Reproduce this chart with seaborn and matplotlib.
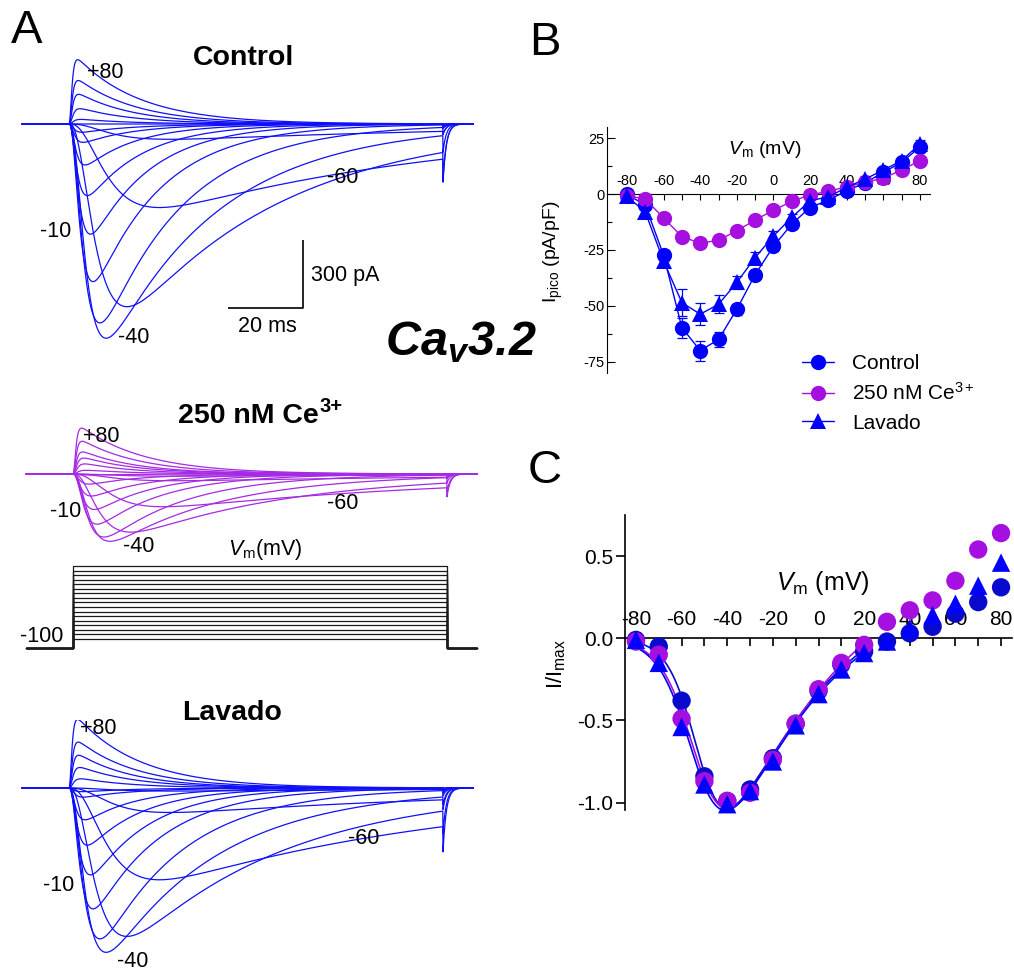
import numpy as np
import pandas as pd
import matplotlib
matplotlib.use("Agg")
import matplotlib.pyplot as plt
import seaborn as sns
from matplotlib.lines import Line2D
from matplotlib.ticker import FixedLocator, FormatStrFormatter

sns.set_theme(style="ticks")
plt.rcParams["font.family"] = ["Liberation Sans", "DejaVu Sans"]
plt.rcParams["text.color"] = "black"
plt.rcParams["axes.labelcolor"] = "black"
plt.rcParams["xtick.color"] = "black"
plt.rcParams["ytick.color"] = "black"
plt.rcParams["axes.edgecolor"] = "black"
plt.rcParams["axes.unicode_minus"] = False
plt.rcParams["mathtext.fontset"] = "custom"
plt.rcParams["mathtext.rm"] = "Liberation Sans"
plt.rcParams["mathtext.it"] = "Liberation Sans:italic"
plt.rcParams["mathtext.bf"] = "Liberation Sans:bold"
plt.rcParams["mathtext.bfit"] = "Liberation Sans:italic:bold"

# ---------------------------------------------------------------- data
# test potentials of the step protocol (mV)
vm = [-80, -70, -60, -50, -40, -30, -20, -10, 0, 10, 20, 30, 40, 50, 60, 70, 80]

# peak current density (pA/pF)
ipk_control = [0.0, -5.0, -27.3, -59.7, -70.0, -65.0, -51.5, -36.0, -23.4, -13.4,
               -6.0, -2.7, 1.5, 5.0, 9.7, 14.2, 21.0]
ipk_cerium = [-0.7, -2.2, -10.7, -19.0, -22.0, -20.6, -16.4, -11.6, -7.2, -3.3,
              -0.3, 1.2, 3.3, 5.2, 7.2, 10.7, 15.0]
ipk_washout = [-1.0, -8.0, -30.0, -48.5, -53.7, -49.3, -39.5, -28.4, -18.7, -10.4,
               -3.0, -1.2, 3.0, 6.7, 10.7, 15.0, 22.4]

# standard error of the mean (pA/pF)
sem_control = [0.5, 1.0, 2.5, 4.5, 4.5, 3.4, 2.5, 2.0, 1.5, 1.0, 0.8, 0.6, 0.8, 1.0, 1.2, 1.5, 2.0]
sem_cerium = [0.3, 0.5, 1.0, 1.5, 1.5, 1.5, 1.2, 1.0, 0.8, 0.6, 0.5, 0.5, 0.6, 0.8, 1.0, 1.0, 1.2]
sem_washout = [0.5, 1.0, 2.5, 6.0, 4.8, 4.0, 3.0, 2.5, 2.0, 1.5, 1.0, 0.8, 1.0, 1.2, 1.5, 1.8, 2.0]

# current normalised to the maximal inward current
inorm_control = [-0.01, -0.05, -0.38, -0.84, -0.99, -0.92, -0.73, -0.52, -0.32, -0.16,
                 -0.08, -0.02, 0.03, 0.07, 0.15, 0.22, 0.31]
inorm_cerium = [-0.02, -0.10, -0.49, -0.87, -0.99, -0.94, -0.74, -0.52, -0.31, -0.15,
                -0.04, 0.10, 0.17, 0.23, 0.35, 0.54, 0.64]
inorm_washout = [-0.01, -0.15, -0.54, -0.89, -1.01, -0.93, -0.75, -0.53, -0.34, -0.19,
                 -0.09, -0.02, 0.06, 0.14, 0.21, 0.32, 0.46]

# gating kinetics of each sweep (ms)
tau_act = [8.0, 7.5, 6.7, 4.6, 2.85, 2.5, 1.9, 1.7, 1.4, 1.2, 1.0, 0.9, 0.8, 0.7, 0.6, 0.55, 0.5]
tau_inact = [90, 90, 80, 43, 30, 22, 18, 16, 15, 14, 14, 14, 14, 15, 15, 16, 17]

conditions = ["Control", "250 nM Ce$^{3+}$", "Lavado"]

# recording constants
CM = 13.5          # membrane capacitance (pF)
V_HOLD = -100      # holding potential (mV)
E_REV = 36.0       # apparent reversal potential (mV)
S_GHK = 12.8       # RT/zF for Ca2+ (mV)
TAU_TAIL = 0.9     # tail current deactivation (ms)
T_PRE, T_STEP, T_POST = 12.5, 100.0, 8.0

# colours
BLUE = "#0000FF"
DARK_BLUE = "#0A0ACD"
PURPLE = "#A50FE0"
TRACE_BLUE = "#1010F8"
TRACE_PURPLE = "#A52AE3"

# ---------------------------------------------------------------- figure
W, H = 1014, 973
fig = plt.figure(figsize=(W / 100, H / 100), dpi=100)


def axes_px(left, top, right, bottom):
    return fig.add_axes([left / W, 1 - bottom / H, (right - left) / W, (bottom - top) / H])


def text_px(x, y, s, **kw):
    kw.setdefault("va", "baseline")
    return fig.text(x / W, 1 - y / H, s, **kw)


def ghk_drive(v, e_rev):
    v = np.where(v == 0, 1e-9, np.asarray(v, float))
    return v * (1 - np.exp((e_rev - v) / S_GHK)) / (-np.expm1(-v / S_GHK))


PX_MS = 3.74            # horizontal scale of the sweeps (px per ms)
PX_PA = 68.0 / 300.0    # vertical scale of the sweeps (px per pA)
T_LIM = (-14.0, 110.0)

t = np.arange(-T_PRE, T_STEP + T_POST + 1e-9, 0.05)


def sweep(density, v, tm, th):
    amp = density * CM
    ts = np.clip(t, 0, T_STEP)
    gate = (1 - np.exp(-ts / tm)) ** 3 * np.exp(-ts / th)
    peak = gate.max()
    i = np.where((t >= 0) & (t <= T_STEP), amp * gate / peak, 0.0)
    open_end = gate[np.searchsorted(t, T_STEP) - 1] / peak
    tail0 = amp * open_end * ghk_drive(V_HOLD, E_REV) / ghk_drive(v, E_REV)
    tail = tail0 * np.exp(-(t - T_STEP) / TAU_TAIL)
    return np.where(t > T_STEP, tail, i)


def sweeps_frame(densities):
    parts = []
    for v, d, tm, th in zip(vm, densities, tau_act, tau_inact):
        parts.append(pd.DataFrame({"t": t, "I": sweep(d, v, tm, th), "Vm": v}))
    return pd.concat(parts, ignore_index=True)


def trace_axes(x_step, y_base, ylim):
    left = x_step + T_LIM[0] * PX_MS
    right = x_step + T_LIM[1] * PX_MS
    top = y_base - ylim[1] * PX_PA
    bottom = y_base - ylim[0] * PX_PA
    ax = axes_px(left, top, right, bottom)
    ax.set_xlim(*T_LIM)
    ax.set_ylim(*ylim)
    ax.axis("off")
    return ax


# --- Panel A: current sweeps
ax_ctl = trace_axes(69, 124, (-1000, 300))
sns.lineplot(data=sweeps_frame(ipk_control), x="t", y="I", units="Vm", estimator=None,
             sort=False, color=TRACE_BLUE, lw=0.9, ax=ax_ctl, legend=False)
# scale bar: 20 ms, 300 pA
sb_t, sb_i = 62.6, -811.6
ax_ctl.plot([sb_t - 20, sb_t, sb_t], [sb_i, sb_i, sb_i + 300], color="black", lw=1.2,
            solid_capstyle="butt")

ax_ce = trace_axes(73, 474, (-1000, 300))
sns.lineplot(data=sweeps_frame(ipk_cerium), x="t", y="I", units="Vm", estimator=None,
             sort=False, color=TRACE_PURPLE, lw=0.9, ax=ax_ce, legend=False)

ax_wash = trace_axes(69, 788, (-900, 300))
sns.lineplot(data=sweeps_frame(ipk_washout), x="t", y="I", units="Vm", estimator=None,
             sort=False, color=TRACE_BLUE, lw=0.9, ax=ax_wash, legend=False)

# voltage protocol
PX_MV = 73.0 / 160.0
ax_prot = axes_px(73 + T_LIM[0] * PX_MS, 566 - 10 * PX_MV, 73 + T_LIM[1] * PX_MS,
                  648.1 + 10 * PX_MV)
ax_prot.set_xlim(*T_LIM)
ax_prot.set_ylim(-110, 90)
ax_prot.axis("off")
prot = []
for v in vm:
    prot.append(pd.DataFrame({
        "t": [-T_PRE, 0, 0, T_STEP, T_STEP, T_STEP + T_POST],
        "V": [V_HOLD, V_HOLD, v, v, V_HOLD, V_HOLD],
        "Vm": v}))
sns.lineplot(data=pd.concat(prot, ignore_index=True), x="t", y="V", units="Vm",
             estimator=None, sort=False, color="#1a1a1a", lw=0.9, ax=ax_prot, legend=False)

# labels of panel A
LBL = 15.5
text_px(244, 65, "Control", fontsize=20.5, fontweight="bold", ha="center")
text_px(87, 78, "+80", fontsize=LBL)
text_px(40, 237, "-10", fontsize=LBL)
text_px(118, 343, "-40", fontsize=LBL)
text_px(327, 183, "-60", fontsize=LBL)
text_px(311, 281, "300 pA", fontsize=LBL)
text_px(267, 332, "20 ms", fontsize=LBL, ha="center")

ce_title = text_px(178, 423, "250 nM Ce", fontsize=20.5, fontweight="bold", ha="left")
renderer = fig.canvas.get_renderer()
ce_right = ce_title.get_window_extent(renderer).x1
fig.text(ce_right / W + 1 / W, 1 - 412 / H, "3+", fontsize=14.5, fontweight="bold",
         ha="left", va="baseline")
text_px(83, 442, "+80", fontsize=LBL)
text_px(50, 517, "-10", fontsize=LBL)
text_px(123, 552, "-40", fontsize=LBL)
text_px(327, 509, "-60", fontsize=LBL)
text_px(228, 555, r"$V_\mathrm{m}$(mV)", fontsize=LBL)
text_px(20, 642, "-100", fontsize=LBL)

text_px(232, 720, "Lavado", fontsize=20.5, fontweight="bold", ha="center")
text_px(80, 734, "+80", fontsize=LBL)
text_px(43, 891, "-10", fontsize=LBL)
text_px(117, 967, "-40", fontsize=LBL)
text_px(348, 844, "-60", fontsize=LBL)

text_px(385, 355, r"$\mathbfit{Ca}_{\mathbfit{v}}\mathbfit{3.2}$", fontsize=35)

PANEL_FONT = ["Liberation Sans Narrow", "Liberation Sans"]
text_px(11, 43, "A", fontsize=34, family=PANEL_FONT)
text_px(529, 55, "B", fontsize=34, family=PANEL_FONT)
text_px(528, 483, "C", fontsize=34, family=PANEL_FONT)

# --- Panel B: peak I-V relationship
palette_b = {conditions[0]: BLUE, conditions[1]: PURPLE, conditions[2]: BLUE}
markers = {conditions[0]: "o", conditions[1]: "o", conditions[2]: "^"}

df_b = pd.DataFrame({
    "Vm": vm * 3,
    "I": ipk_control + ipk_cerium + ipk_washout,
    "cond": [conditions[0]] * len(vm) + [conditions[1]] * len(vm) + [conditions[2]] * len(vm),
})
sems = {conditions[0]: sem_control, conditions[1]: sem_cerium, conditions[2]: sem_washout}

ax_b = axes_px(607, 127, 930, 373)
for c in conditions:
    sub = df_b[df_b["cond"] == c]
    ax_b.errorbar(sub["Vm"], sub["I"], yerr=sems[c], fmt="none", ecolor=palette_b[c],
                  elinewidth=0.9, capsize=3.5, capthick=0.9, zorder=2)
sns.lineplot(data=df_b, x="Vm", y="I", hue="cond", style="cond", hue_order=conditions,
             style_order=conditions, palette=palette_b, markers=markers, dashes=False,
             markersize=11, markeredgewidth=0, lw=1.0, ax=ax_b, legend=False, zorder=3)

ax_b.set_xlim(-90.9, 85.5)
ax_b.set_ylim(-80, 30)
ax_b.spines["right"].set_visible(False)
ax_b.spines["bottom"].set_position(("data", 0))
ax_b.spines["top"].set_position(("data", 0))
ax_b.spines["top"].set_visible(False)
for s in ("left", "bottom"):
    ax_b.spines[s].set_linewidth(0.8)
    ax_b.spines[s].set_color("black")
ax_b.xaxis.set_major_locator(FixedLocator(vm[::2]))
ax_b.xaxis.set_minor_locator(FixedLocator(vm[1::2]))
ax_b.tick_params(axis="x", which="both", bottom=True, top=False, labelbottom=False,
                 labeltop=True, direction="out", length=4, width=0.8, color="black",
                 labelsize=10.5, pad=0.5)
ax_b.yaxis.set_major_locator(FixedLocator([-75, -50, -25, 0, 25]))
ax_b.yaxis.set_minor_locator(FixedLocator([-62.5, -37.5, -12.5, 12.5]))
ax_b.tick_params(axis="y", which="major", direction="in", length=6, width=0.8,
                 color="black", labelsize=10.5, pad=2, left=True)
ax_b.tick_params(axis="y", which="minor", direction="in", length=3.5, width=0.8,
                 color="black", left=True)
ax_b.set_xlabel("")
ax_b.set_ylabel("")
text_px(553, 252, r"I$_\mathrm{pico}$ (pA/pF)", fontsize=14, rotation=90,
        ha="center", va="center")
text_px(765, 150, r"$V_\mathrm{m}$ (mV)", fontsize=14, ha="center", va="center")

handles = [Line2D([], [], color=palette_b[c], marker=markers[c], markersize=11,
                  markeredgewidth=0, lw=1.0) for c in conditions]
fig.legend(handles, conditions, loc="upper left", bbox_to_anchor=(802 / W, 1 - 354 / H),
           frameon=False, fontsize=15, handlelength=1.55, handletextpad=0.85,
           labelspacing=0.45, borderpad=0, borderaxespad=0)

# --- Panel C: normalised I-V with Boltzmann-GHK fits


def fit_iv(v, i):
    v = np.asarray(v, float)
    i = np.asarray(i, float)
    v50s = np.arange(-70, -40, 0.5)
    ks = np.arange(2, 12, 0.25)
    es = np.arange(15, 60, 1.0)
    V50, K, E = np.meshgrid(v50s, ks, es, indexing="ij")
    vv = v[None, None, None, :]
    act = 1 / (1 + np.exp((V50[..., None] - vv) / K[..., None]))
    f = act * ghk_drive(vv, E[..., None])
    g = (f * i).sum(-1) / (f * f).sum(-1)
    res = ((g[..., None] * f - i) ** 2).sum(-1)
    a, b, c = np.unravel_index(np.argmin(res), res.shape)
    return v50s[a], ks[b], es[c], g[a, b, c]


FIT_MAX = 20
palette_c = {conditions[0]: DARK_BLUE, conditions[1]: PURPLE, conditions[2]: BLUE}
norm = {conditions[0]: inorm_control, conditions[1]: inorm_cerium, conditions[2]: inorm_washout}
fit_rows = []
v_fine = np.linspace(vm[0], FIT_MAX, 300)
for c in conditions:
    sel = [k for k, v in enumerate(vm) if v <= FIT_MAX]
    v50, k, e, g = fit_iv([vm[j] for j in sel], [norm[c][j] for j in sel])
    curve = g * ghk_drive(v_fine, e) / (1 + np.exp((v50 - v_fine) / k))
    fit_rows.append(pd.DataFrame({"Vm": v_fine, "I": curve, "cond": c}))
df_fit = pd.concat(fit_rows, ignore_index=True)

df_c = pd.DataFrame({
    "Vm": vm * 3,
    "I": inorm_control + inorm_cerium + inorm_washout,
    "cond": [conditions[0]] * len(vm) + [conditions[1]] * len(vm) + [conditions[2]] * len(vm),
})

ax_c = axes_px(625, 515, 1012, 810)
sns.lineplot(data=df_fit, x="Vm", y="I", hue="cond", hue_order=conditions,
             palette=palette_c, lw=1.2, ax=ax_c, legend=False, zorder=2)
sns.scatterplot(data=df_c, x="Vm", y="I", hue="cond", style="cond",
                hue_order=[conditions[1], conditions[0], conditions[2]],
                style_order=conditions, palette=palette_c, markers=markers, s=175,
                linewidth=0, edgecolor="none", ax=ax_c, legend=False, zorder=4,
                clip_on=False)

ax_c.set_xlim(-84.8, 84.8)
ax_c.set_ylim(-1.045, 0.75)
ax_c.spines["right"].set_visible(False)
ax_c.spines["bottom"].set_position(("data", 0))
ax_c.spines["top"].set_position(("data", 0))
ax_c.spines["top"].set_visible(False)
for s in ("left", "bottom"):
    ax_c.spines[s].set_linewidth(1.2)
    ax_c.spines[s].set_color("black")
ax_c.xaxis.set_major_locator(FixedLocator(vm[::2]))
ax_c.xaxis.set_minor_locator(FixedLocator(vm[1::2]))
ax_c.tick_params(axis="x", which="both", bottom=True, top=False, labelbottom=False,
                 labeltop=True, direction="out", length=6, width=1.2, color="black",
                 labelsize=15, pad=0.5)
ax_c.yaxis.set_major_locator(FixedLocator([-1.0, -0.5, 0.0, 0.5]))
ax_c.yaxis.set_major_formatter(FormatStrFormatter("%.1f"))
ax_c.tick_params(axis="y", which="major", direction="out", length=6.5, width=1.2,
                 color="black", labelsize=15, pad=2, left=True)
ax_c.set_xlabel("")
ax_c.set_ylabel("")
text_px(556, 664, r"I/I$_\mathrm{max}$", fontsize=16, rotation=90, ha="center", va="center")
text_px(823, 583, r"$V_\mathrm{m}$ (mV)", fontsize=18, ha="center", va="center")

fig.savefig("out.png", dpi=100)
